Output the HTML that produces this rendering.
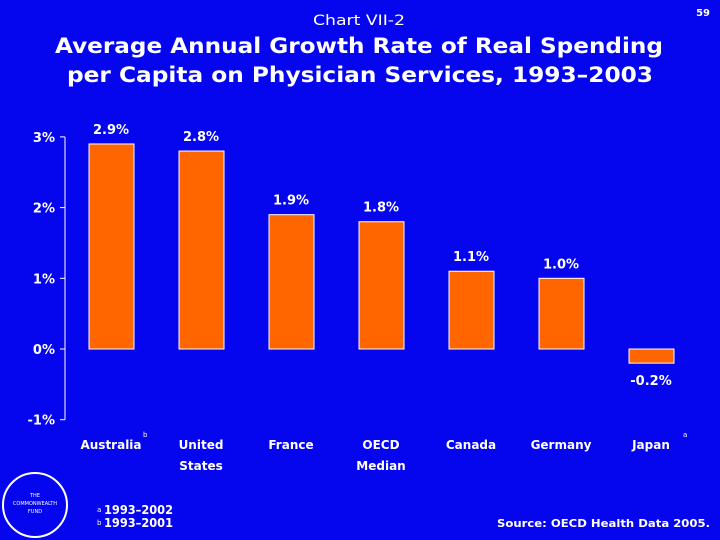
<!DOCTYPE html>
<html><head><meta charset="utf-8"><style>
body{margin:0;width:720px;height:540px;background:#0505ee;overflow:hidden;font-family:"DejaVu Sans","Liberation Sans",sans-serif;color:#fff}
svg text{font-family:"DejaVu Sans","Liberation Sans",sans-serif}
</style></head><body>
<svg width="720" height="540" style="position:absolute;left:0;top:0">
<text x="313" y="25" font-size="14" fill="#fff" textLength="92" lengthAdjust="spacingAndGlyphs">Chart VII-2</text>
<text x="710" y="16" text-anchor="end" font-size="10" font-weight="bold" fill="#fff">59</text>
<text x="55" y="53" font-size="21" font-weight="bold" fill="#fff" textLength="608" lengthAdjust="spacingAndGlyphs">Average Annual Growth Rate of Real Spending</text>
<text x="67" y="82" font-size="21" font-weight="bold" fill="#fff" textLength="586" lengthAdjust="spacingAndGlyphs">per Capita on Physician Services, 1993–2003</text>
<g id="plot"></g>
<g>
<circle cx="35" cy="505" r="32" fill="none" stroke="#fff" stroke-width="2"/>
<text x="35" y="497" text-anchor="middle" font-size="5" fill="#fff">THE</text>
<text x="35" y="505" text-anchor="middle" font-size="5" fill="#fff">COMMONWEALTH</text>
<text x="35" y="513" text-anchor="middle" font-size="5" fill="#fff">FUND</text>
</g>
<text x="97" y="512" font-size="7" fill="#fff">a</text>
<text x="104" y="514" font-size="12" font-weight="bold" fill="#fff" textLength="69" lengthAdjust="spacingAndGlyphs">1993–2002</text>
<text x="97" y="525" font-size="7" fill="#fff">b</text>
<text x="104" y="527" font-size="12" font-weight="bold" fill="#fff" textLength="69" lengthAdjust="spacingAndGlyphs">1993–2001</text>
<text x="497" y="527" font-size="11" font-weight="bold" fill="#fff" textLength="213" lengthAdjust="spacingAndGlyphs">Source: OECD Health Data 2005.</text>
</svg>
<script>
const categories=["Australia","United|States","France","OECD|Median","Canada","Germany","Japan"];
const values=[2.9,2.8,1.9,1.8,1.1,1.0,-0.2];
const valueLabels=["2.9%","2.8%","1.9%","1.8%","1.1%","1.0%","-0.2%"];
const notes=["b","","","","","","a"];
const yTicks=[3,2,1,0,-1];
const yTickLabels=["3%","2%","1%","0%","-1%"];
const NS="http://www.w3.org/2000/svg";
const g=document.getElementById('plot');
const y=v=>349-v*70.7;
const x=i=>89+i*90;
function mk(t,a,txt){const e=document.createElementNS(NS,t);for(const k in a)e.setAttribute(k,a[k]);if(txt!=null)e.textContent=txt;g.appendChild(e);return e;}
let ax=mk('line',{x1:65,x2:65,y1:y(3),y2:y(-1),stroke:'#fff','stroke-width':1});


yTicks.forEach((v,i)=>{
 let t=mk('line',{x1:60,x2:65,y1:y(v),y2:y(v),stroke:'#fff'});
 
 
 let l=mk('text',{x:55,y:y(v)+5,'text-anchor':'end','font-size':13,'font-weight':'bold',fill:'#fff'},yTickLabels[i]);
 
 
});
values.forEach((v,i)=>{
 const top=Math.min(y(v),y(0)),h=Math.abs(y(v)-y(0));
 let b=mk('rect',{x:x(i),y:top,width:45,height:h,fill:'#ff6600',stroke:'#fff','stroke-width':1});
 
 
 const ly=v>=0?y(v)-10:y(v)+22;
 let vl=mk('text',{x:x(i)+22,y:ly,'text-anchor':'middle','font-size':13,'font-weight':'bold',fill:'#fff'},valueLabels[i]);
 
 
 categories[i].split('|').forEach((s,j)=>{
  let c=mk('text',{x:x(i)+22,y:449+j*21,'text-anchor':'middle','font-size':12,'font-weight':'bold',fill:'#fff'},s);
  
  
 });
 if(notes[i]){
  let n=mk('text',{x:x(i)+54,y:437,'font-size':7,fill:'#fff'},notes[i]);
  
  
 }
});
</script>
</body></html>
